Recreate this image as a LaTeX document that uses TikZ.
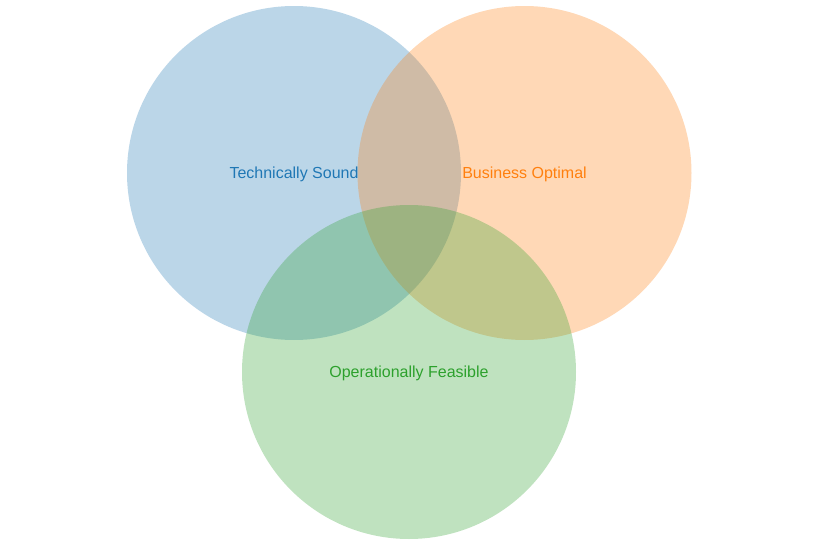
\documentclass[tikz,border=0pt]{standalone}
\usepackage{fontspec}
\setmainfont{Liberation Sans}
\definecolor{tabblue}{RGB}{31,119,180}
\definecolor{taborange}{RGB}{255,127,14}
\definecolor{tabgreen}{RGB}{44,160,44}
\tikzset{
	setcircle/.style={fill=#1, fill opacity=0.3, draw=none},
	setlabel/.style={text=#1, font=\fontsize{16}{19}\selectfont, inner sep=0pt},
}
\begin{document}
\begin{tikzpicture}[x=1pt, y=-1pt]
	\useasboundingbox (0, 0) rectangle (820, 546);
	% sets
	\fill[setcircle=tabblue] (294, 173) circle (167);
	\fill[setcircle=taborange] (524.5, 173) circle (167);
	\fill[setcircle=tabgreen] (409, 372) circle (167);
	% labels
	\node[setlabel=tabblue] (technical) at (294, 174.5) {Technically Sound};
	\node[setlabel=taborange] (business) at (524.5, 174.5) {Business Optimal};
	\node[setlabel=tabgreen] (operational) at (409, 373.5) {Operationally Feasible};
\end{tikzpicture}
\end{document}
